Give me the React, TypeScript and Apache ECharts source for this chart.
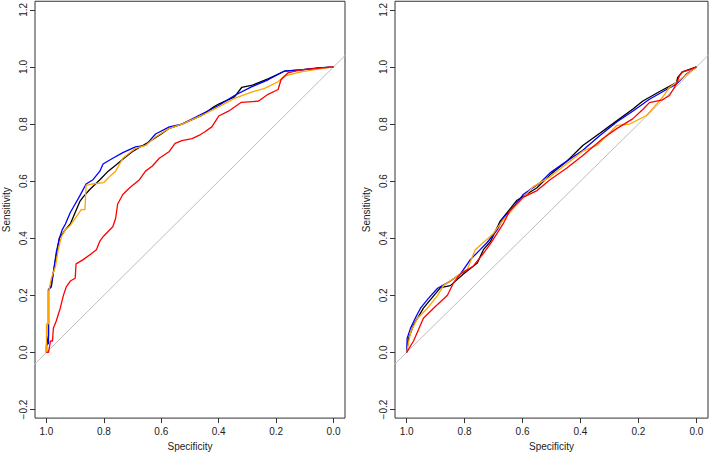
import React, { useEffect, useRef } from "react";
import * as echarts from "echarts";

type P = [number, number];

// Left panel ROC curves: [specificity, sensitivity]
const leftBlack: P[] = [
  [1.0, 0.0], [1.0, 0.02], [0.993, 0.06], [0.993, 0.22], [0.983, 0.23], [0.976, 0.28], [0.966, 0.34],
  [0.955, 0.4], [0.934, 0.43], [0.917, 0.45], [0.9, 0.49], [0.883, 0.53], [0.872, 0.545], [0.85, 0.57],
  [0.814, 0.605], [0.785, 0.635], [0.759, 0.656], [0.73, 0.68], [0.7, 0.704], [0.641, 0.739], [0.6, 0.765],
  [0.572, 0.785], [0.528, 0.8], [0.459, 0.83], [0.417, 0.86], [0.4, 0.87], [0.345, 0.895], [0.32, 0.928],
  [0.286, 0.935], [0.228, 0.958], [0.172, 0.985], [0.114, 0.99], [0.0, 1.0],
];
const leftBlue: P[] = [
  [1.0, 0.0], [1.0, 0.03], [0.993, 0.03], [0.993, 0.22], [0.985, 0.23], [0.976, 0.28], [0.966, 0.35],
  [0.955, 0.4], [0.945, 0.43], [0.934, 0.45], [0.917, 0.49], [0.9, 0.52], [0.883, 0.55], [0.862, 0.59],
  [0.838, 0.605], [0.814, 0.635], [0.803, 0.66], [0.769, 0.68], [0.734, 0.7], [0.69, 0.72], [0.655, 0.725],
  [0.62, 0.765], [0.572, 0.79], [0.528, 0.8], [0.459, 0.835], [0.4, 0.865], [0.345, 0.9], [0.286, 0.93],
  [0.228, 0.955], [0.172, 0.985], [0.114, 0.99], [0.055, 0.997], [0.0, 1.0],
];
const leftOrange: P[] = [
  [1.0, 0.0], [1.0, 0.1], [0.993, 0.1], [0.993, 0.21], [0.983, 0.26], [0.969, 0.3], [0.959, 0.36],
  [0.948, 0.405], [0.934, 0.43], [0.917, 0.445], [0.897, 0.474], [0.879, 0.5], [0.866, 0.5], [0.862, 0.585],
  [0.84, 0.59], [0.8, 0.595], [0.776, 0.62], [0.759, 0.635], [0.734, 0.68], [0.69, 0.715], [0.655, 0.725],
  [0.62, 0.755], [0.572, 0.785], [0.528, 0.8], [0.459, 0.83], [0.4, 0.86], [0.345, 0.89], [0.286, 0.912],
  [0.24, 0.925], [0.193, 0.948], [0.172, 0.968], [0.114, 0.983], [0.05, 0.993], [0.0, 1.0],
];
const leftRed: P[] = [
  [1.0, 0.0], [0.993, 0.0], [0.986, 0.04], [0.979, 0.04], [0.976, 0.085], [0.966, 0.11], [0.952, 0.155],
  [0.941, 0.2], [0.931, 0.23], [0.917, 0.25], [0.9, 0.26], [0.897, 0.31], [0.872, 0.325], [0.845, 0.345],
  [0.826, 0.36], [0.814, 0.39], [0.803, 0.405], [0.769, 0.44], [0.759, 0.47], [0.752, 0.52], [0.734, 0.553],
  [0.71, 0.577], [0.676, 0.605], [0.655, 0.635], [0.631, 0.653], [0.607, 0.68], [0.572, 0.704],
  [0.552, 0.732], [0.528, 0.742], [0.493, 0.749], [0.469, 0.76], [0.448, 0.773], [0.424, 0.79],
  [0.4, 0.828], [0.366, 0.845], [0.321, 0.876], [0.262, 0.88], [0.228, 0.904], [0.193, 0.921],
  [0.183, 0.955], [0.159, 0.979], [0.114, 0.99], [0.0, 1.0],
];

// Right panel ROC curves
const rightBlack: P[] = [
  [1.0, 0.0], [0.993, 0.05], [0.976, 0.096], [0.942, 0.155], [0.883, 0.227], [0.849, 0.234], [0.804, 0.275],
  [0.756, 0.313], [0.735, 0.36], [0.711, 0.388], [0.677, 0.46], [0.619, 0.533], [0.55, 0.577], [0.505, 0.622],
  [0.447, 0.67], [0.392, 0.725], [0.344, 0.76], [0.275, 0.811], [0.22, 0.852], [0.186, 0.88], [0.127, 0.914],
  [0.069, 0.945], [0.065, 0.962], [0.048, 0.983], [0.0, 1.0],
];
const rightBlue: P[] = [
  [1.0, 0.0], [0.998, 0.05], [0.986, 0.086], [0.965, 0.13], [0.952, 0.155], [0.924, 0.19], [0.893, 0.225],
  [0.849, 0.25], [0.814, 0.275], [0.78, 0.325], [0.746, 0.36], [0.722, 0.385], [0.687, 0.43], [0.667, 0.47],
  [0.63, 0.51], [0.598, 0.553], [0.54, 0.594], [0.505, 0.629], [0.447, 0.67], [0.392, 0.708], [0.333, 0.76],
  [0.275, 0.807], [0.22, 0.845], [0.162, 0.887], [0.103, 0.921], [0.069, 0.94], [0.034, 0.975], [0.0, 1.0],
];
const rightOrange: P[] = [
  [1.0, 0.0], [0.986, 0.072], [0.962, 0.12], [0.928, 0.155], [0.893, 0.2], [0.873, 0.234], [0.825, 0.268],
  [0.79, 0.292], [0.763, 0.36], [0.735, 0.385], [0.701, 0.416], [0.667, 0.464], [0.564, 0.58], [0.505, 0.615],
  [0.392, 0.705], [0.344, 0.725], [0.275, 0.795], [0.23, 0.8], [0.172, 0.83], [0.117, 0.893], [0.093, 0.928],
  [0.048, 0.962], [0.0, 1.0],
];
const rightRed: P[] = [
  [1.0, 0.0], [0.976, 0.04], [0.942, 0.12], [0.907, 0.155], [0.859, 0.2], [0.838, 0.244], [0.814, 0.275],
  [0.77, 0.302], [0.735, 0.347], [0.711, 0.38], [0.667, 0.45], [0.643, 0.498], [0.598, 0.543], [0.55, 0.567],
  [0.505, 0.605], [0.447, 0.646], [0.392, 0.69], [0.323, 0.749], [0.275, 0.784], [0.22, 0.818],
  [0.186, 0.85], [0.162, 0.875], [0.117, 0.885], [0.093, 0.9], [0.069, 0.94], [0.058, 0.97], [0.048, 0.983],
  [0.024, 0.99], [0.0, 1.0],
];

const diagonal: P[] = [[1.2, -0.2], [-0.2, 1.2]];

const xTicks = [0, 0.2, 0.4, 0.6, 0.8, 1.0];
const yTicks = [-0.2, 0, 0.2, 0.4, 0.6, 0.8, 1.0, 1.2];

const FONT = "Liberation Sans, Arial, Helvetica, sans-serif";
const AXIS_COLOR = "#333333";
const TEXT_COLOR = "#222222";

function fmt(v: number): string {
  const r = Math.round(v * 10) / 10;
  if (r < 0) return "\u2212" + Math.abs(r).toFixed(1);
  return r.toFixed(1);
}

export default function App() {
  const ref = useRef<HTMLDivElement>(null);
  useEffect(() => {
    if (!ref.current) return;
    const chart = echarts.init(ref.current, undefined, { renderer: "svg" });

    const mkX = (gridIndex: number) => ({
      type: "value",
      gridIndex,
      min: -0.04,
      max: 1.04,
      inverse: true,
      position: "bottom",
      axisLine: { show: false, onZero: false },
      splitLine: { show: false },
      axisTick: {
        show: true,
        inside: false,
        length: 5,
        customValues: xTicks,
        lineStyle: { color: AXIS_COLOR, width: 1 },
      },
      axisLabel: {
        customValues: xTicks,
        formatter: (v: number) => fmt(v),
        fontSize: 10,
        fontFamily: FONT,
        color: TEXT_COLOR,
        margin: 8,
      },
      name: "Specificity",
      nameLocation: "middle",
      nameGap: 20,
      nameTextStyle: { fontSize: 10, fontFamily: FONT, color: TEXT_COLOR },
    });

    const mkY = (gridIndex: number) => ({
      type: "value",
      gridIndex,
      min: -0.23,
      max: 1.23,
      position: "left",
      axisLine: { show: false, onZero: false },
      splitLine: { show: false },
      axisTick: {
        show: true,
        inside: false,
        length: 5,
        customValues: yTicks,
        lineStyle: { color: AXIS_COLOR, width: 1 },
      },
      axisLabel: {
        customValues: yTicks,
        formatter: (v: number) => fmt(v),
        fontSize: 10,
        fontFamily: FONT,
        color: TEXT_COLOR,
        rotate: 90,
        margin: 7,
      },
      name: "Sensitivity",
      nameLocation: "middle",
      nameGap: 24,
      nameTextStyle: { fontSize: 10, fontFamily: FONT, color: TEXT_COLOR },
    });

    const line = (idx: number, data: P[], color: string, width = 1.3, z = 3) => ({
      type: "line",
      xAxisIndex: idx,
      yAxisIndex: idx,
      data,
      showSymbol: false,
      symbol: "none",
      silent: true,
      clip: true,
      z,
      lineStyle: { color, width },
    });

    const grid = (left: number) => ({
      left,
      top: 1,
      width: 313,
      height: 423,
      show: true,
      borderColor: AXIS_COLOR,
      borderWidth: 1,
      backgroundColor: "transparent",
    });

    chart.setOption({
      animation: false,
      backgroundColor: "#ffffff",
      grid: [grid(32), grid(395)],
      xAxis: [mkX(0), mkX(1)],
      yAxis: [mkY(0), mkY(1)],
      series: [
        line(0, diagonal, "#bdbdbd", 1, 2),
        line(0, leftBlack, "#000000"),
        line(0, leftBlue, "#0000ff"),
        line(0, leftOrange, "#ffa500"),
        line(0, leftRed, "#ff0000"),
        line(1, diagonal, "#bdbdbd", 1, 2),
        line(1, rightBlack, "#000000"),
        line(1, rightBlue, "#0000ff"),
        line(1, rightOrange, "#ffa500"),
        line(1, rightRed, "#ff0000"),
      ],
    });
    return () => chart.dispose();
  }, []);

  return (
    <div
      ref={ref}
      style={{ position: "fixed", left: 0, top: 0, width: 709, height: 456, background: "#fff" }}
    />
  );
}
